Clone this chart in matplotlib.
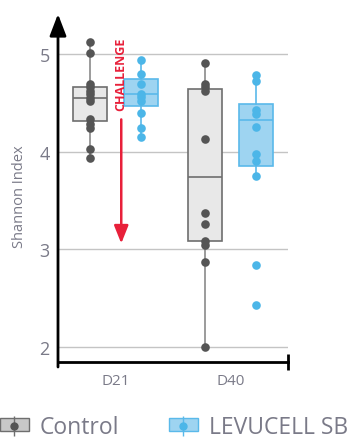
import numpy as np
import matplotlib.pyplot as plt
from matplotlib.patches import Patch
from matplotlib.lines import Line2D
from matplotlib.legend_handler import HandlerTuple

plt.rcParams['font.family'] = ['Open Sans', 'DejaVu Sans']

# data
days = ['D21', 'D40']
groups = ['Control', 'LEVUCELL SB']

control_d21 = [5.12, 5.01, 4.69, 4.66, 4.62, 4.59, 4.55, 4.52, 4.33, 4.28, 4.24, 4.03, 3.93]
lev_d21 = [4.94, 4.80, 4.69, 4.59, 4.56, 4.52, 4.40, 4.24, 4.15]
control_d40 = [4.91, 4.69, 4.66, 4.62, 4.13, 3.37, 3.26, 3.09, 3.04, 2.87, 2.00]
lev_d40 = [4.79, 4.72, 4.43, 4.39, 4.25, 3.98, 3.90, 3.75, 2.84, 2.43]

# box stats (whisker low, q1, median, q3, whisker high)
control_stats = [(3.93, 4.31, 4.55, 4.66, 5.12), (2.00, 3.09, 3.74, 4.64, 4.91)]
lev_stats = [(4.15, 4.47, 4.59, 4.74, 4.94), (3.75, 3.85, 4.32, 4.49, 4.79)]

grey_fill = '#e8e8e8'
grey_edge = '#6e6e6e'
grey_dot = '#555555'
blue_fill = '#9ed4f1'
blue_edge = '#5ab9ea'
blue_dot = '#4cb6e8'
text_col = '#7a7a88'

fig = plt.figure(figsize=(3.47, 4.39), dpi=100)
ax = fig.add_axes([58 / 347, 1 - 363 / 439, 230 / 347, 333 / 439])

x = np.arange(len(days))
off = 0.22
width = 0.3


def make_stats(stats):
    return [dict(whislo=s[0], q1=s[1], med=s[2], q3=s[3], whishi=s[4], fliers=[]) for s in stats]


ax.bxp(make_stats(control_stats), positions=x - off, widths=width, showcaps=False,
       showfliers=False, patch_artist=True,
       boxprops=dict(facecolor=grey_fill, edgecolor=grey_edge, linewidth=1.2),
       medianprops=dict(color=grey_edge, linewidth=1.2),
       whiskerprops=dict(color='#8a8a8a', linewidth=1.2), zorder=2)
ax.bxp(make_stats(lev_stats), positions=x + off, widths=width, showcaps=False,
       showfliers=False, patch_artist=True,
       boxprops=dict(facecolor=blue_fill, edgecolor=blue_edge, linewidth=1.2),
       medianprops=dict(color=blue_edge, linewidth=1.2),
       whiskerprops=dict(color=blue_edge, linewidth=1.2), zorder=2)

for pos, vals, col in [(x[0] - off, control_d21, grey_dot), (x[0] + off, lev_d21, blue_dot),
                       (x[1] - off, control_d40, grey_dot), (x[1] + off, lev_d40, blue_dot)]:
    ax.plot([pos] * len(vals), vals, 'o', color=col, ms=6.2, mec='none', zorder=3)

for yv in [2, 3, 4, 5]:
    ax.axhline(yv, color='#c4c4c4', lw=1, zorder=0)

ax.set_xlim(-0.5, 1.5)
ax.set_ylim(1.846, 5.256)
ax.set_yticks([2, 3, 4, 5])
ax.set_xticks(x)
ax.set_xticklabels(days)
ax.tick_params(axis='y', length=0, labelsize=13, labelcolor=text_col, pad=6)
ax.tick_params(axis='x', length=0, labelsize=11, labelcolor=text_col, pad=8)
ax.set_xticks([1.5], minor=True)
ax.tick_params(axis='x', which='minor', length=11, width=2, direction='inout', color='black')
ax.set_ylabel('Shannon Index', fontsize=10.5, color=text_col, labelpad=9)

for s in ['top', 'right', 'left']:
    ax.spines[s].set_visible(False)
ax.spines['bottom'].set_linewidth(2)

# y axis with arrow head
ax.annotate('', xy=(0, 1 + 15 / 333), xytext=(0, -5 / 333), xycoords='axes fraction',
            arrowprops=dict(arrowstyle='-|>,head_length=1.1,head_width=0.42', lw=2,
                            color='black', mutation_scale=12, shrinkA=0, shrinkB=0))

# challenge marker
red = '#e8203a'
ax.annotate('', xy=(0.05, 3.06), xytext=(0.05, 4.33),
            arrowprops=dict(arrowstyle='-|>,head_length=0.9,head_width=0.36', lw=1.8,
                            color=red, mutation_scale=12, shrinkA=0, shrinkB=0))
ax.text(0.05, 4.8, 'CHALLENGE', rotation=90, color=red, fontsize=9, fontweight='bold',
        ha='center', va='center')

handles = [
    (Patch(facecolor='#c8c8c8', edgecolor=grey_edge, lw=1),
     Line2D([], [], marker='|', ls='none', color=grey_edge, ms=14, mew=1),
     Line2D([], [], marker='o', ls='none', color=grey_dot, ms=5)),
    (Patch(facecolor=blue_fill, edgecolor=blue_edge, lw=1),
     Line2D([], [], marker='|', ls='none', color=blue_edge, ms=14, mew=1),
     Line2D([], [], marker='o', ls='none', color=blue_dot, ms=5)),
]
leg = fig.legend(handles, groups, loc='center left', bbox_to_anchor=(0, 1 - 428 / 439), ncol=2,
                 frameon=False, fontsize=16.5, handler_map={tuple: HandlerTuple(ndivide=1)},
                 handlelength=1.25, handleheight=0.48, handletextpad=0.5, columnspacing=2.15,
                 borderpad=0, borderaxespad=0)
for t in leg.get_texts():
    t.set_color(text_col)

fig.savefig('out.png', dpi=100)
